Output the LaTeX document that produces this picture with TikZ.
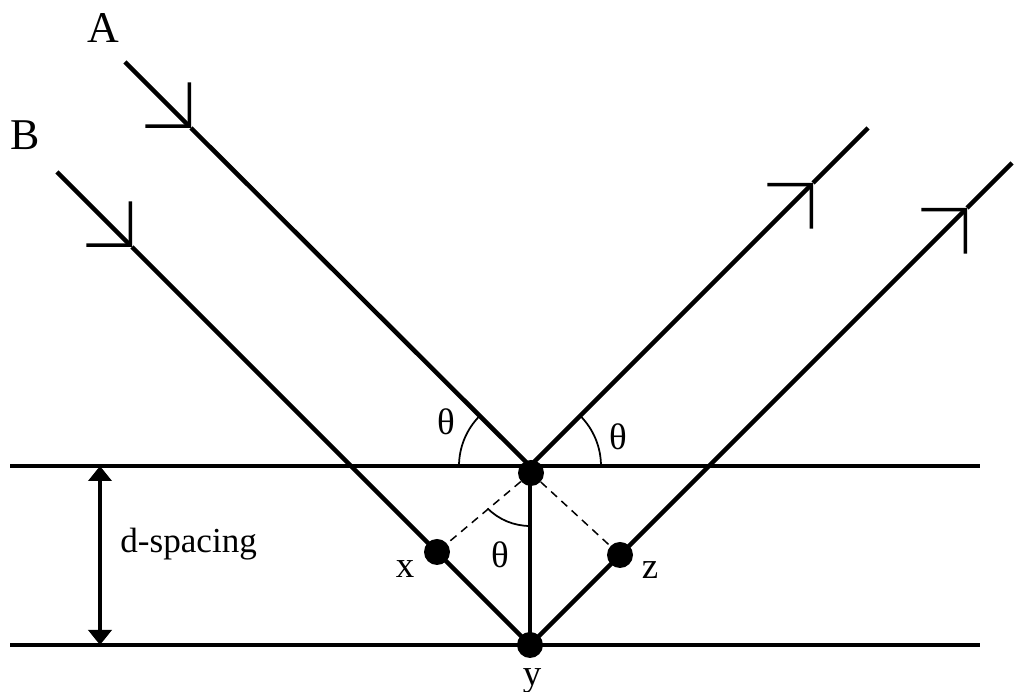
\documentclass[tikz,border=0pt]{standalone}
\usepackage{fontspec}
\setmainfont{Liberation Serif}
\usetikzlibrary{arrows.meta,backgrounds}
\tikzset{
  plane/.style={line width=0.095cm},
  ray/.style={line width=0.09cm},
  raydir/.style={-{Straight Barb[length=0.62cm,width=1.24cm,line width=0.07cm]}},
  vert/.style={line width=0.08cm},
  perp/.style={line width=0.03cm, dash pattern=on 0.16cm off 0.12cm},
  angarc/.style={line width=0.035cm},
  spacing/.style={line width=0.08cm, {Triangle[length=0.3cm,width=0.46cm]}-{Triangle[length=0.3cm,width=0.46cm]}},
  atom/.style={circle, fill=black, inner sep=0pt, minimum size=0.52cm},
  beamlbl/.style={font=\fontsize{25}{27}\selectfont, anchor=base, inner sep=0pt},
  ptlbl/.style={font=\fontsize{21}{23}\selectfont, anchor=base, inner sep=0pt},
}

\begin{document}
\begin{tikzpicture}[x=0.02cm, y=0.02cm]
  \useasboundingbox (0,0) rectangle (1015,692);
  % scattering points
  \coordinate (P) at (530,226);
  \coordinate (Q) at (530,47);
  \node[atom] (p) at (531,219) {};
  \node[atom] (q) at (530,47) {};
  \node[atom] (xp) at (437,140) {};
  \node[atom] (zp) at (620,137) {};
  \begin{scope}[on background layer]
  % lattice planes
  \coordinate (tl) at (10,226);  \coordinate (tr) at (980,226);
  \coordinate (bl) at (10,47);   \coordinate (br) at (980,47);
  \draw[plane] (tl) -- (tr);
  \draw[plane] (bl) -- (br);
  % beam A
  \coordinate (a0) at (125,630);  \coordinate (ma) at (191,564);
  \coordinate (a1) at (868,564);  \coordinate (mc) at (813,509);
  \draw[ray, raydir] (a0) -- (ma);
  \draw[ray] (ma) -- (P);
  \draw[ray, raydir] (P) -- (mc);
  \draw[ray] (mc) -- (a1);
  % beam B
  \coordinate (b0) at (57,520);   \coordinate (mb) at (132,445);
  \coordinate (b1) at (1012,529); \coordinate (md) at (967,484);
  \draw[ray, raydir] (b0) -- (mb);
  \draw[ray] (mb) -- (xp.center) -- (Q);
  \draw[ray, raydir] (Q) -- (zp.center) -- (md);
  \draw[ray] (md) -- (b1);
  % path difference construction
  \draw[vert] (P) -- (Q);
  \draw[perp] (p) -- (xp);
  \draw[perp] (p) -- (zp);
  \end{scope}
  % angles
  \draw[angarc] ([shift={(180:1.42cm)}]P) arc[start angle=180, end angle=135, radius=1.42cm];
  \draw[angarc] ([shift={(0:1.42cm)}]P) arc[start angle=0, end angle=45, radius=1.42cm];
  \draw[angarc] ([shift={(270:1.2cm)}]P) arc[start angle=270, end angle=225, radius=1.2cm];
  \node[ptlbl] (t1) at (446,257) {θ};
  \node[ptlbl] (t2) at (618,242) {θ};
  \node[ptlbl] (t3) at (500,124) {θ};
  % d-spacing
  \coordinate (s0) at (100,226);  \coordinate (s1) at (100,47);
  \draw[spacing] (s0) -- (s1);
  \node[font=\fontsize{20}{22}\selectfont, anchor=base west, inner sep=0pt] (dsp) at (120,139) {d-spacing};
  % labels
  \node[beamlbl] (la) at (103,649) {A};
  \node[beamlbl] (lb) at (25,542) {B};
  \node[ptlbl] (lx) at (405,114) {x};
  \node[ptlbl] (lz) at (650,113) {z};
  \node[ptlbl] (ly) at (532,6) {y};
\end{tikzpicture}
\end{document}
